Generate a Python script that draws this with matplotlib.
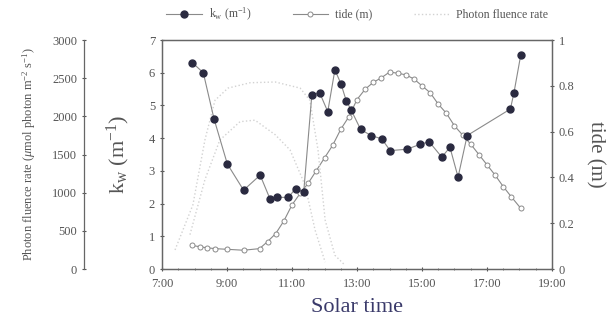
import numpy as np
import matplotlib.pyplot as plt
from matplotlib.ticker import MultipleLocator, FuncFormatter

plt.rcParams['font.family'] = ['Liberation Serif', 'DejaVu Serif']
plt.rcParams['mathtext.fontset'] = 'custom'
plt.rcParams['mathtext.rm'] = 'Liberation Serif'
plt.rcParams['mathtext.it'] = 'Liberation Serif:italic'

# light attenuation coefficient k_w (m^-1), solar time in decimal hours
kw_time = [7.93, 8.27, 8.60, 9.01, 9.51, 10.02, 10.32, 10.55, 10.89, 11.11,
           11.36, 11.61, 11.85, 12.10, 12.32, 12.51, 12.67, 12.82, 13.11, 13.43,
           13.76, 14.02, 14.53, 14.94, 15.22, 15.61, 15.86, 16.11, 16.39, 17.72,
           17.83, 18.04]
kw = [6.31, 6.00, 4.59, 3.21, 2.41, 2.87, 2.15, 2.19, 2.19, 2.46,
      2.35, 5.32, 5.39, 4.81, 6.09, 5.65, 5.14, 4.86, 4.27, 4.08,
      3.98, 3.62, 3.66, 3.81, 3.89, 3.42, 3.72, 2.81, 4.08, 4.89,
      5.39, 6.55]

# tide height (m)
tide_time = [7.93, 8.17, 8.37, 8.63, 9.01, 9.51, 10.00, 10.25, 10.50, 10.75,
             11.00, 11.25, 11.50, 11.75, 12.00, 12.25, 12.50, 12.75, 13.00, 13.25,
             13.50, 13.75, 14.00, 14.25, 14.50, 14.75, 15.00, 15.25, 15.50, 15.75,
             16.00, 16.25, 16.50, 16.75, 17.00, 17.25, 17.50, 17.75, 18.04]
tide = [0.103, 0.097, 0.093, 0.089, 0.086, 0.082, 0.089, 0.12, 0.155, 0.21,
        0.28, 0.33, 0.375, 0.43, 0.485, 0.54, 0.61, 0.665, 0.74, 0.785,
        0.815, 0.835, 0.86, 0.855, 0.848, 0.83, 0.80, 0.77, 0.72, 0.68,
        0.625, 0.585, 0.545, 0.50, 0.455, 0.41, 0.36, 0.315, 0.265]

# photon fluence rate (umol photon m-2 s-1), two traces
pfr_a_time = [7.4, 7.95, 8.32, 8.63, 9.03, 9.71, 10.48, 11.25, 11.55, 11.8, 12.02, 12.32, 12.63]
pfr_a = [250, 840, 1690, 2210, 2370, 2440, 2450, 2370, 2210, 1560, 640, 180, 50]
pfr_b_time = [7.86, 8.32, 8.78, 9.4, 9.86, 10.48, 10.94, 11.4, 11.71, 12.02]
pfr_b = [450, 1170, 1690, 1930, 1950, 1760, 1560, 1100, 510, 90]

x_ticks = [7, 9, 11, 13, 15, 17, 19]

grey = '#666666'
fig = plt.figure(figsize=(6.10, 3.26), dpi=100)
ax = fig.add_axes([0.2656, 0.1748, 0.6393, 0.7025])
ax_tide = ax.twinx()
ax_pfr = ax.twinx()

ax_pfr.plot(pfr_a_time, pfr_a, ls=':', lw=1.0, color='#d2d2d2',
            label='Photon fluence rate')
ax_pfr.plot(pfr_b_time, pfr_b, ls=':', lw=1.0, color='#d2d2d2')

ax_tide.plot(tide_time, tide, '-', color='#8a8a8a', lw=0.8, marker='o', ms=3.6,
             mfc='white', mec='#8a8a8a', mew=0.7, label='tide (m)')
ax.plot(kw_time, kw, '-', color='#8a8a8a', lw=0.8, marker='o', ms=5,
        mfc='#2a2a40', mec='#2a2a40', label=r'k$_{\mathrm{w}}$ (m$^{-1}$)',
        zorder=5)
ax.set_zorder(ax_tide.get_zorder() + 1)
ax.patch.set_visible(False)

ax.set_xlim(7, 19)
ax.set_ylim(0, 7)
ax_tide.set_ylim(0, 1)
ax_pfr.set_ylim(0, 3000)

ax.set_xticks(x_ticks)
ax.xaxis.set_minor_locator(MultipleLocator(0.5))
ax.xaxis.set_major_formatter(FuncFormatter(lambda v, p: '%d:00' % v))
ax.yaxis.set_major_locator(MultipleLocator(1))
ax_tide.yaxis.set_major_locator(MultipleLocator(0.2))
ax_tide.yaxis.set_major_formatter(FuncFormatter(lambda v, p: '%g' % round(v, 1)))
ax_pfr.yaxis.set_major_locator(MultipleLocator(500))

# photon axis sits on its own spine to the far left
ax_pfr.spines['left'].set_position(('axes', -0.2))
ax_pfr.spines['left'].set_visible(True)
ax_pfr.yaxis.set_ticks_position('left')
ax_pfr.yaxis.set_label_position('left')
for s in ('right', 'top', 'bottom'):
    ax_pfr.spines[s].set_visible(False)

for a in (ax, ax_tide, ax_pfr):
    for s in a.spines.values():
        s.set_color(grey)
        s.set_linewidth(0.9)
    a.tick_params(colors='#555555', labelsize=9, length=3, width=0.8,
                  direction='inout')
    a.tick_params(which='minor', length=2, width=0.6, color=grey,
                  direction='inout')
ax.tick_params(axis='x', pad=5)

ax.set_xlabel('Solar time', fontsize=16, color='#3a3a6a', labelpad=6)
ax.set_ylabel(r'k$_{\mathrm{w}}$ (m$^{-1}$)', fontsize=16, color='#555555',
              labelpad=12)
ax_tide.set_ylabel('tide (m)', fontsize=15, color='#555555', rotation=270,
                   labelpad=22)
ax_pfr.set_ylabel(r'Photon fluence rate ($\mu$mol photon m$^{-2}$ s$^{-1}$)',
                  fontsize=9, color='#555555', labelpad=10)

handles = []
labels = []
for a in (ax, ax_tide, ax_pfr):
    h, l = a.get_legend_handles_labels()
    handles += h
    labels += l
leg = fig.legend(handles, labels, loc='upper left', ncol=3, frameon=False,
                 bbox_to_anchor=(0.255, 1.015), fontsize=8.5,
                 columnspacing=3.5, handlelength=3.0, handletextpad=0.6)
for t in leg.get_texts():
    t.set_color('#555555')

fig.savefig('out.png', dpi=100)
